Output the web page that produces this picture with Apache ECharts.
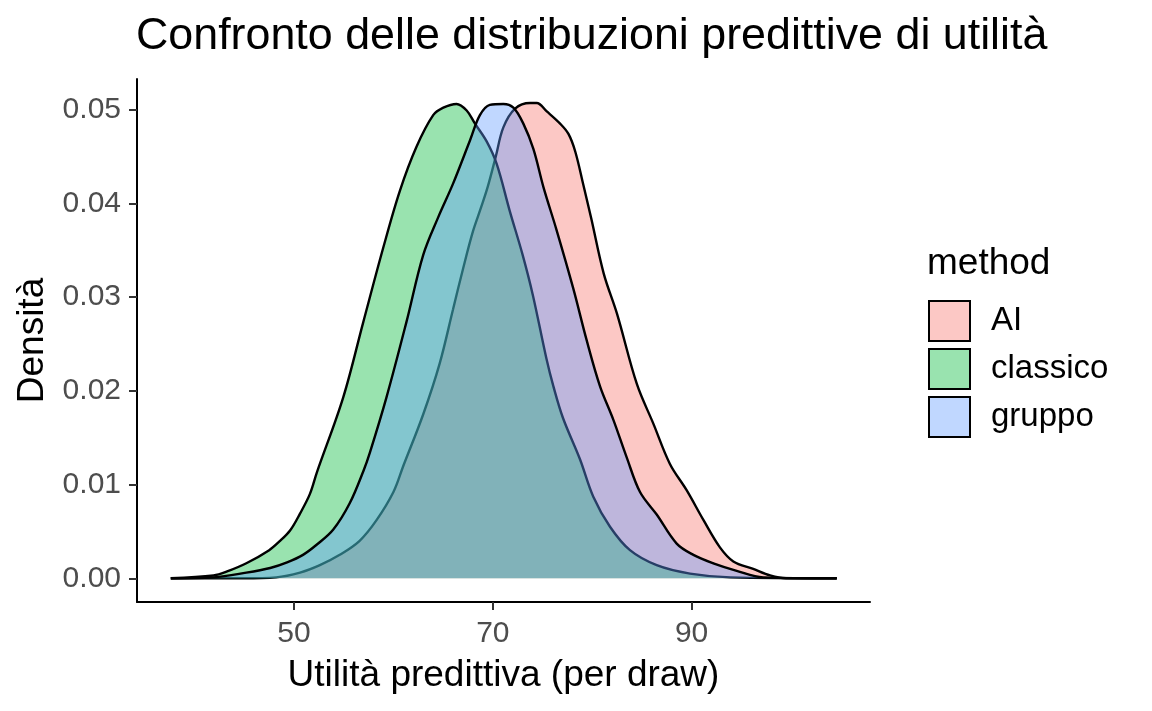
<!DOCTYPE html>
<html>
<head>
<meta charset="utf-8">
<script src="https://cdn.jsdelivr.net/npm/echarts@6/dist/echarts.min.js"></script>
<style>
  html, body { margin: 0; padding: 0; background: #fff; }
  #main { width: 1152px; height: 711px; }
</style>
</head>
<body>
<div id="main"></div>
<script>
// densità stimate (x = utilità, y = densità)
const methods = ['AI', 'classico', 'gruppo'];
const colors = ['#F8766D', '#00BA38', '#619CFF'];

const aiX = [37.6, 44.9, 48.2, 50.6, 52.6, 54.6, 56.6, 58.3, 60.0, 61.0, 63.0, 64.65, 66.0, 67.0, 68.0, 68.8,
  69.5, 70.3, 71.06, 72.24, 73.75, 74.42, 75.43, 76.77, 77.61, 78.3, 79.1, 79.9, 81.16, 82.5, 84.5, 86.15,
  87.82, 89.5, 91.2, 92.85, 94.2, 96.2, 97.9, 99.5, 104.6];
const aiY = [0, 0, 0.0001, 0.0006, 0.0014, 0.0025, 0.0040, 0.0062, 0.0092, 0.0120, 0.0175, 0.0229, 0.0287, 0.0330, 0.0370, 0.0395,
  0.0418, 0.0450, 0.0481, 0.0501, 0.0507, 0.0507, 0.0498, 0.0485, 0.0474, 0.0455, 0.0420, 0.0384, 0.0325, 0.0282, 0.0207, 0.0165,
  0.0122, 0.0094, 0.0062, 0.0033, 0.0018, 0.0010, 0.0003, 0, 0];

const classicoX = [37.6, 41.9, 43.2, 45.2, 47.5, 48.5, 49.6, 50.6, 51.6, 52.3, 54.95, 56.96, 58.96, 60.64, 62.31,
  64.0, 65.02, 66.35, 67.37, 68.21, 69.38, 70.39, 71.7, 73.0, 74.03, 75.38, 76.09, 77.06, 78.77, 80.11,
  81.79, 83.8, 86.49, 89.84, 93.9, 104.6];
const classicoY = [0, 0.0003, 0.0007, 0.0016, 0.0030, 0.0039, 0.0051, 0.0069, 0.0090, 0.0113, 0.0193, 0.0273, 0.0352, 0.0413, 0.0460,
  0.0494, 0.0502, 0.0506, 0.0499, 0.0485, 0.0466, 0.0442, 0.0392, 0.0345, 0.0302, 0.0235, 0.0205, 0.0171, 0.0127, 0.0087,
  0.0055, 0.0030, 0.0014, 0.0005, 0.0001, 0];

const gruppoX = [37.6, 41.9, 45.2, 47.6, 49.3, 50.9, 52.3, 53.95, 55.6, 57.0, 57.63, 59.3, 61.3, 63.0, 64.5, 66.0,
  67.7, 68.7, 69.7, 71.06, 72.07, 73.07, 74.08, 75.1, 76.4, 78.1, 79.44, 80.78, 82.13, 83.47, 84.81,
  86.49, 88.5, 90.18, 92.19, 94.54, 97.2, 104.6];
const gruppoY = [0, 0.0001, 0.0006, 0.0011, 0.0017, 0.0025, 0.0036, 0.0052, 0.0080, 0.0115, 0.0134, 0.0193, 0.0273, 0.0345, 0.0385, 0.0421,
  0.0467, 0.0494, 0.0505, 0.0506, 0.0502, 0.0485, 0.0458, 0.0417, 0.0372, 0.0309, 0.0254, 0.0205, 0.0169, 0.0129, 0.0092,
  0.0068, 0.0037, 0.0025, 0.0016, 0.0008, 0.0001, 0];

const xTicks = [50, 70, 90];
const yTicks = [0, 0.01, 0.02, 0.03, 0.04, 0.05];

const xs = [aiX, classicoX, gruppoX];
const ys = [aiY, classicoY, gruppoY];

function fade(hex, a) {
  const n = parseInt(hex.slice(1), 16);
  return 'rgba(' + (n >> 16) + ',' + ((n >> 8) & 255) + ',' + (n & 255) + ',' + a + ')';
}

const font = 'Liberation Sans, Arial, Helvetica, sans-serif';
const alpha = 0.4;

const series = methods.map((m, i) => ({
  name: m,
  type: 'line',
  data: xs[i].map((x, j) => [x, ys[i][j]]),
  smooth: 0.35,
  showSymbol: false,
  lineStyle: { color: '#000', width: 2.4 },
  itemStyle: { color: fade(colors[i], alpha), borderColor: '#000', borderWidth: 2 },
  areaStyle: { color: fade(colors[i], alpha), opacity: 1, origin: 'auto' },
  emphasis: { disabled: true },
  z: 2 + i
}));

const option = {
  animation: false,
  textStyle: { fontFamily: font },
  title: {
    text: 'Confronto delle distribuzioni predittive di utilità',
    left: 136,
    top: 14,
    padding: [0, 0, 0, 0],
    textStyle: { fontFamily: font, fontSize: 44.8, fontWeight: 'normal', color: '#000' }
  },
  grid: { left: 137, right: 282, top: 79, bottom: 109 },
  xAxis: {
    type: 'value',
    min: 34.2,
    max: 107.95,
    name: 'Utilità predittiva (per draw)',
    nameLocation: 'middle',
    nameGap: 55,
    nameTextStyle: { fontSize: 37, color: '#000', fontFamily: font },
    axisLine: { onZero: false, lineStyle: { color: '#000', width: 2 } },
    axisTick: { show: true, length: 8, customValues: xTicks, lineStyle: { color: '#333', width: 2 } },
    axisLabel: { customValues: xTicks, fontSize: 30, color: '#4D4D4D', margin: 17, fontFamily: font },
    splitLine: { show: false }
  },
  yAxis: {
    type: 'value',
    min: -0.00253,
    max: 0.05326,
    name: 'Densità',
    nameLocation: 'middle',
    nameGap: 78,
    nameRotate: 90,
    nameTextStyle: { fontSize: 37, color: '#000', fontFamily: font },
    axisLine: { show: true, lineStyle: { color: '#000', width: 2 } },
    axisTick: { show: true, length: 8, customValues: yTicks, lineStyle: { color: '#333', width: 2 } },
    axisLabel: {
      customValues: yTicks, fontSize: 30, color: '#4D4D4D', margin: 16, fontFamily: font,
      formatter: v => v.toFixed(2)
    },
    splitLine: { show: false }
  },
  legend: {
    orient: 'vertical',
    left: 928,
    top: 300,
    padding: 0,
    icon: 'rect',
    itemWidth: 41,
    itemHeight: 40,
    itemGap: 6,
    selectedMode: false,
    textStyle: { fontSize: 33, color: '#000', fontFamily: font, padding: [0, 0, 0, 16] },
    data: methods.map((m, i) => ({
      name: m,
      itemStyle: { color: fade(colors[i], alpha), borderColor: '#000', borderWidth: 2 }
    }))
  },
  graphic: [{
    type: 'text',
    left: 927,
    top: 245,
    style: { text: 'method', fontSize: 37, fill: '#000', fontFamily: font }
  }],
  series: series
};

const chart = echarts.init(document.getElementById('main'), null, { renderer: 'canvas' });
chart.setOption(option);
</script>
</body>
</html>
